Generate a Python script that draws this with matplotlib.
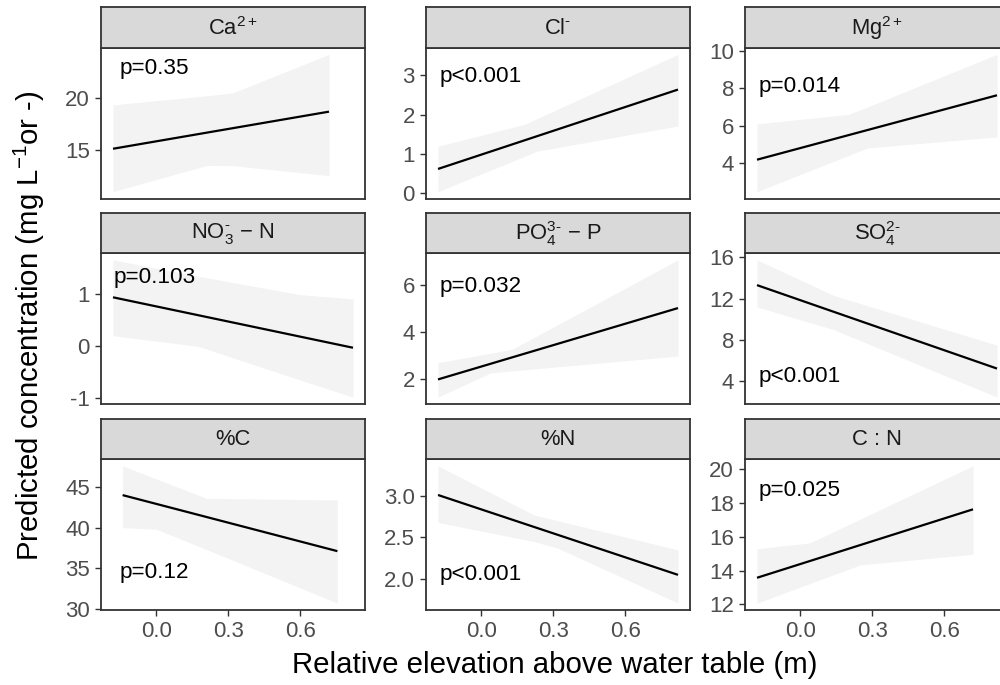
import matplotlib
matplotlib.use("Agg")
import matplotlib.pyplot as plt
import numpy as np

plt.rcParams['font.family'] = ['Liberation Sans', 'DejaVu Sans']
plt.rcParams['mathtext.fontset'] = 'custom'
plt.rcParams['mathtext.rm'] = 'Liberation Sans'
plt.rcParams['mathtext.it'] = 'Liberation Sans:italic'
plt.rcParams['mathtext.bf'] = 'Liberation Sans:bold'
plt.rcParams['axes.unicode_minus'] = False

# ---------------- data ----------------
strip_labels = ['Ca$^{2+}$', r'Cl$^{\text{-}}$', 'Mg$^{2+}$',
                r'NO$_3^{\text{-}}$' + ' \u2212 N', r'PO$_4^{3\text{-}}$' + ' \u2212 P',
                r'SO$_4^{2\text{-}}$',
                '%C', '%N', 'C : N']
p_labels = ['p=0.35', 'p<0.001', 'p=0.014',
            'p=0.103', 'p=0.032', 'p<0.001',
            'p=0.12', 'p<0.001', 'p=0.025']

line_x_start = [-0.18, -0.18, -0.18, -0.18, -0.18, -0.18, -0.14, -0.18, -0.18]
line_x_end = [0.72, 0.82, 0.82, 0.82, 0.82, 0.82, 0.755, 0.82, 0.72]
line_y_start = [15.16, 0.61, 4.18, 0.93, 2.00, 13.30, 44.0, 3.01, 13.58]
line_y_end = [18.69, 2.64, 7.63, -0.04, 5.02, 5.24, 37.1, 2.05, 17.63]

ca_x = [-0.18, 0.21, 0.32, 0.72]
ca_lo = [11.08, 13.57, 13.55, 12.60]
ca_hi = [19.33, 20.20, 20.48, 24.14]

cl_x = [-0.18, 0.18, 0.23, 0.82]
cl_lo = [0.03, 0.93, 1.06, 1.71]
cl_hi = [1.19, 1.75, 1.89, 3.54]

mg_x = [-0.18, 0.20, 0.28, 0.82]
mg_lo = [2.47, 4.40, 4.81, 5.40]
mg_hi = [6.10, 6.60, 7.00, 9.82]

no3_x = [-0.18, 0.10, 0.18, 0.60, 0.82]
no3_lo = [0.19, 0.03, -0.02, -0.66, -0.99]
no3_hi = [1.65, 1.40, 1.33, 0.98, 0.90]

po4_x = [-0.18, 0.04, 0.13, 0.82]
po4_lo = [1.25, 2.28, 2.36, 2.99]
po4_hi = [2.71, 3.11, 3.28, 7.06]

so4_x = [-0.18, 0.14, 0.82]
so4_lo = [11.19, 9.00, 2.48]
so4_hi = [15.74, 12.30, 7.50]

pc_x = [-0.14, 0.00, 0.21, 0.755]
pc_lo = [40.0, 39.8, 37.3, 30.7]
pc_hi = [47.6, 46.0, 43.6, 43.4]

pn_x = [-0.18, 0.22, 0.32, 0.82]
pn_lo = [2.68, 2.45, 2.37, 1.71]
pn_hi = [3.36, 2.77, 2.70, 2.35]

cn_x = [-0.18, 0.04, 0.25, 0.72]
cn_lo = [12.08, 13.24, 14.34, 14.97]
cn_hi = [15.30, 15.64, 17.05, 20.20]

band_x = [ca_x, cl_x, mg_x, no3_x, po4_x, so4_x, pc_x, pn_x, cn_x]
band_lo = [ca_lo, cl_lo, mg_lo, no3_lo, po4_lo, so4_lo, pc_lo, pn_lo, cn_lo]
band_hi = [ca_hi, cl_hi, mg_hi, no3_hi, po4_hi, so4_hi, pc_hi, pn_hi, cn_hi]

y_ticks = [[15, 20], [0, 1, 2, 3], [4, 6, 8, 10],
           [-1, 0, 1], [2, 4, 6], [4, 8, 12, 16],
           [30, 35, 40, 45], [2.0, 2.5, 3.0], [12, 14, 16, 18, 20]]
y_ticklabels = [['15', '20'], ['0', '1', '2', '3'], ['4', '6', '8', '10'],
                ['-1', '0', '1'], ['2', '4', '6'], ['4', '8', '12', '16'],
                ['30', '35', '40', '45'], ['2.0', '2.5', '3.0'],
                ['12', '14', '16', '18', '20']]
x_ticks = [0.0, 0.3, 0.6]
x_ticklabels = ['0.0', '0.3', '0.6']

# p-label positions in axes fraction
p_pos = [(0.072, 0.86), (0.05, 0.81), (0.053, 0.74),
         (0.046, 0.84), (0.05, 0.775), (0.05, 0.185),
         (0.072, 0.247), (0.05, 0.236), (0.05, 0.79)]

# ---------------- layout ----------------
W, H = 1000, 685
fig = plt.figure(figsize=(W / 100, H / 100), dpi=100)
fig.patch.set_facecolor('white')

col_left = [101, 426, 745]
panel_top = [47.5, 253, 459]
pw, ph, sh = 264, 151, 40.5

edge = '#333333'
all_x = np.concatenate([np.array(v) for v in band_x])
xmin, xmax = all_x.min(), all_x.max()
xr = xmax - xmin
xlim = (xmin - 0.05 * xr, xmax + 0.05 * xr)

fs_tick = 16
fs_strip = 15.8
fs_p = 16.2
fs_title = 21.2

for i in range(9):
    r, c = divmod(i, 3)
    l = col_left[c]
    t = panel_top[r]
    ax = fig.add_axes([l / W, 1 - (t + ph) / H, pw / W, ph / H])
    bx = np.array(band_x[i])
    lo = np.array(band_lo[i])
    hi = np.array(band_hi[i])
    ax.fill_between(bx, lo, hi, color='#F3F3F3', linewidth=0, zorder=1)
    ax.plot([line_x_start[i], line_x_end[i]], [line_y_start[i], line_y_end[i]],
            color='black', lw=1.6, zorder=3, solid_capstyle='butt')
    ymin, ymax = lo.min(), hi.max()
    yr = ymax - ymin
    ax.set_ylim(ymin - 0.05 * yr, ymax + 0.05 * yr)
    ax.set_xlim(*xlim)
    ax.set_yticks(y_ticks[i])
    ax.set_yticklabels(y_ticklabels[i])
    if r == 2:
        ax.set_xticks(x_ticks)
        ax.set_xticklabels(x_ticklabels)
    else:
        ax.set_xticks([])
    ax.tick_params(axis='both', direction='out', length=4.5, width=1.0,
                   color=edge, labelcolor='#4D4D4D', labelsize=fs_tick, pad=3.5)
    for sp in ax.spines.values():
        sp.set_color(edge)
        sp.set_linewidth(1.3)
    ax.text(p_pos[i][0], p_pos[i][1], p_labels[i], transform=ax.transAxes,
            ha='left', va='center', fontsize=fs_p, color='black', zorder=4)

    sax = fig.add_axes([l / W, 1 - t / H, pw / W, sh / H])
    sax.set_facecolor('#D9D9D9')
    sax.set_xticks([])
    sax.set_yticks([])
    for sp in sax.spines.values():
        sp.set_color(edge)
        sp.set_linewidth(1.3)
    sax.text(0.5, 0.47, strip_labels[i], transform=sax.transAxes,
             ha='center', va='center', fontsize=fs_strip, color='#1A1A1A')

fig.text(29 / W, 1 - 326 / H, 'Predicted concentration (mg L$^{-1}$or -)',
         rotation=90, ha='center', va='center', fontsize=fs_title, color='black')
fig.text(555 / W, 1 - 665 / H, 'Relative elevation above water table (m)',
         ha='center', va='center', fontsize=fs_title, color='black')

fig.savefig('out.png', dpi=100, facecolor='white')
